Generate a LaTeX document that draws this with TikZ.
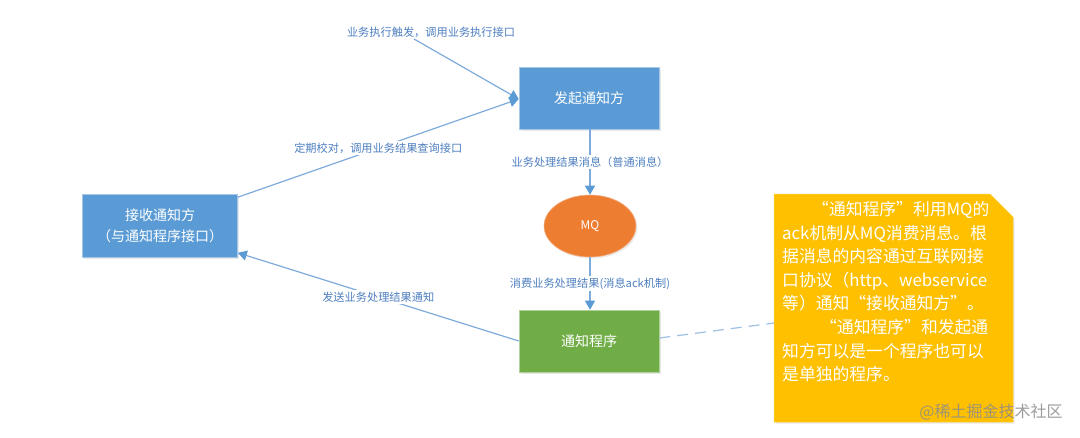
\documentclass[tikz,border=0pt]{standalone}
\usepackage{fontspec}
\newfontfamily\cjk{Noto Sans CJK SC}
\usetikzlibrary{arrows.meta,shapes.geometric,shadows,calc}
\definecolor{boxblue}{HTML}{5B9BD5}
\definecolor{boxgreen}{HTML}{70AD47}
\definecolor{mqorange}{HTML}{ED7D31}
\definecolor{noteyellow}{HTML}{FFC000}
\definecolor{linkblue}{HTML}{7EABDC}
\definecolor{tipblue}{HTML}{5B9BD5}
\definecolor{labelblue}{HTML}{4E7FBF}
\tikzset{
  boxnode/.style={rectangle, inner sep=0pt, text=white, align=center,
    font={\cjk\fontsize{14}{21}\selectfont},
    drop shadow={opacity=0.18, shadow xshift=1.5pt, shadow yshift=-1.5pt}},
  link/.style={draw=linkblue, line width=1.2pt,
    -{Triangle[width=10pt,length=9pt,color=tipblue]}},
  lbl/.style={fill=white, inner sep=1.5pt, text=labelblue,
    font={\cjk\fontsize{11.2}{13}\selectfont}},
}
\begin{document}
\begin{tikzpicture}[x=1pt,y=-1pt]
\useasboundingbox (0,0) rectangle (1080,437);
\fill[white] (0,0) rectangle (1080,437);

% nodes
\node[boxnode, fill=boxblue, draw=boxblue!55!white, line width=0.6pt,
  minimum width=140pt, minimum height=62pt] (fa) at (589,98) {发起通知方};
\node[boxnode, fill=boxblue, draw=boxblue!55!white, line width=0.6pt,
  minimum width=155pt, minimum height=63pt] (jie) at (160,226)
  {接收通知方\\（与通知程序接口）};
\node[ellipse, fill=mqorange, draw=mqorange!60!white, line width=0.6pt,
  inner sep=0pt, minimum width=92pt, minimum height=62pt, text=white,
  font={\cjk\fontsize{12}{14}\selectfont},
  drop shadow={opacity=0.15, shadow xshift=1.5pt, shadow yshift=-1.5pt}]
  (mq) at (590,226) {MQ};
\node[boxnode, fill=boxgreen, draw=boxgreen!55!white, line width=0.6pt,
  minimum width=140pt, minimum height=62pt] (tz) at (589,341) {通知程序};

% note
\path[fill=noteyellow, draw=noteyellow!70!white, line width=0.5pt,
  drop shadow={opacity=0.18, shadow xshift=1.5pt, shadow yshift=-1.5pt}]
  (774,194) -- (990,194) -- (1013,217) -- (1013,422) -- (774,422) -- cycle;
\coordinate (noteL) at (774,323);
\node[anchor=north west, inner sep=0pt, text=white, align=left,
  font={\cjk\fontsize{16.8}{23.6}\selectfont}] (notetext) at (782,201)
  {\hspace*{30pt}“通知程序”利用MQ的\\
   ack机制从MQ消费消息。根\\
   据消息的内容通过互联网接\\
   口协议（http、webservice\\
   等）通知“接收通知方”。\\
   \hspace*{38pt}“通知程序”和发起通\\
   知方可以是一个程序也可以\\
   是单独的程序。};

% labels
\node[lbl, fill=none] (l1) at (431,32) {业务执行触发，调用业务执行接口};
\coordinate (l1b) at (414,39);

% connectors
\draw[link] (l1b) -- ([yshift=-1pt]fa.west);
\draw[link] ([yshift=-3pt]jie.north east) -- node[lbl] {定期校对，调用业务结果查询接口} ([yshift=-1pt]fa.west);
\draw[link] (fa.south -| mq.north) -- node[lbl] {业务处理结果消息（普通消息）} (mq.north);
\draw[link] (mq.south) -- node[lbl] {消费业务处理结果(消息ack机制)} (tz.north -| mq.south);
\draw[link] (tz.west) -- node[lbl] {发送业务处理结果通知} ([yshift=5pt]jie.south east);
\draw[draw=linkblue!75!white, line width=1.2pt, dash pattern=on 11pt off 7pt]
  ([yshift=3pt]tz.east) -- (noteL);

% watermark
\node[text=black!45, opacity=0.85, font={\cjk\fontsize{16}{18}\selectfont},
  inner sep=0pt] (wm) at (991,412) {@稀土掘金技术社区};
\end{tikzpicture}
\end{document}
